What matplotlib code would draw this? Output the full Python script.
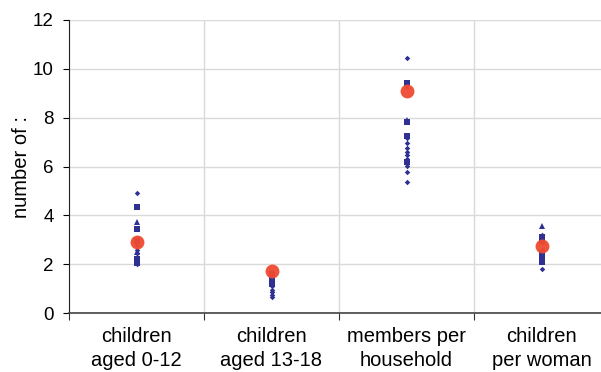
import matplotlib
matplotlib.use('Agg')
import matplotlib.pyplot as plt

plt.rcParams['font.family'] = ['Liberation Sans', 'DejaVu Sans']

categories = ['children\naged 0-12', 'children\naged 13-18', 'members per\nhousehold', 'children\nper woman']

# individual survey values per category, grouped by marker
diamonds = [
    [4.93, 3.05, 2.8, 2.6, 2.45, 2.3, 2.1, 2.0],
    [1.5, 1.3, 1.1, 0.95, 0.85, 0.75, 0.67],
    [10.45, 7.15, 6.95, 6.75, 6.61, 6.48, 6.31, 6.02, 5.77, 5.38],
    [3.2, 2.9, 2.6, 2.3, 1.8],
]
squares = [
    [4.34, 3.43, 2.95, 2.2, 2.05],
    [1.6, 1.4, 1.3, 1.2],
    [9.41, 7.84, 7.23, 6.2],
    [3.13, 2.95, 2.45, 2.2, 2.1],
]
triangles = [
    [3.74, 2.5],
    [1.65],
    [7.9, 9.3],
    [3.58],
]
means = [2.92, 1.73, 9.11, 2.76]

blue = '#2E3192'
red = '#F04A30'

fig = plt.figure(figsize=(6.01, 3.72), dpi=100)
ax = fig.add_axes([69/601, 59/372, 540/601, 293/372])

for i in range(len(categories)):
    x = i + 0.5
    ax.plot([x]*len(diamonds[i]), diamonds[i], 'D', color=blue, ms=2.8, mew=0, zorder=3)
    ax.plot([x]*len(squares[i]), squares[i], 's', color=blue, ms=4.2, mew=0, zorder=3)
    ax.plot([x]*len(triangles[i]), triangles[i], '^', color=blue, ms=4.2, mew=0, zorder=3)
ax.plot([i + 0.5 for i in range(len(means))], means, 'o', color=red, ms=10, mew=0,
        alpha=0.95, zorder=4)

ax.set_xlim(0, 4)
ax.set_ylim(0, 12)
ax.set_yticks(range(0, 13, 2))
ax.set_xticks([0, 1, 2, 3, 4])
ax.set_xticklabels([])
ax.set_xticks([i + 0.5 for i in range(4)], minor=True)
ax.set_xticklabels(categories, minor=True, fontsize=14.5, linespacing=1.35)
ax.tick_params(axis='x', which='minor', length=0, pad=10)
ax.tick_params(axis='x', which='major', length=5, direction='out', color='#333333')
ax.tick_params(axis='y', length=4, direction='out', labelsize=13.5, pad=7)

ax.grid(True, which='major', color='#d9d9d9', lw=1)
ax.set_axisbelow(True)
ax.spines['top'].set_visible(False)
ax.spines['right'].set_visible(False)
ax.spines['left'].set_color('#222222')
ax.spines['bottom'].set_color('#444444')
ax.spines['bottom'].set_linewidth(1.2)

ax.set_ylabel('number of :', fontsize=14.5, labelpad=1)

plt.savefig('out.png', dpi=100)
